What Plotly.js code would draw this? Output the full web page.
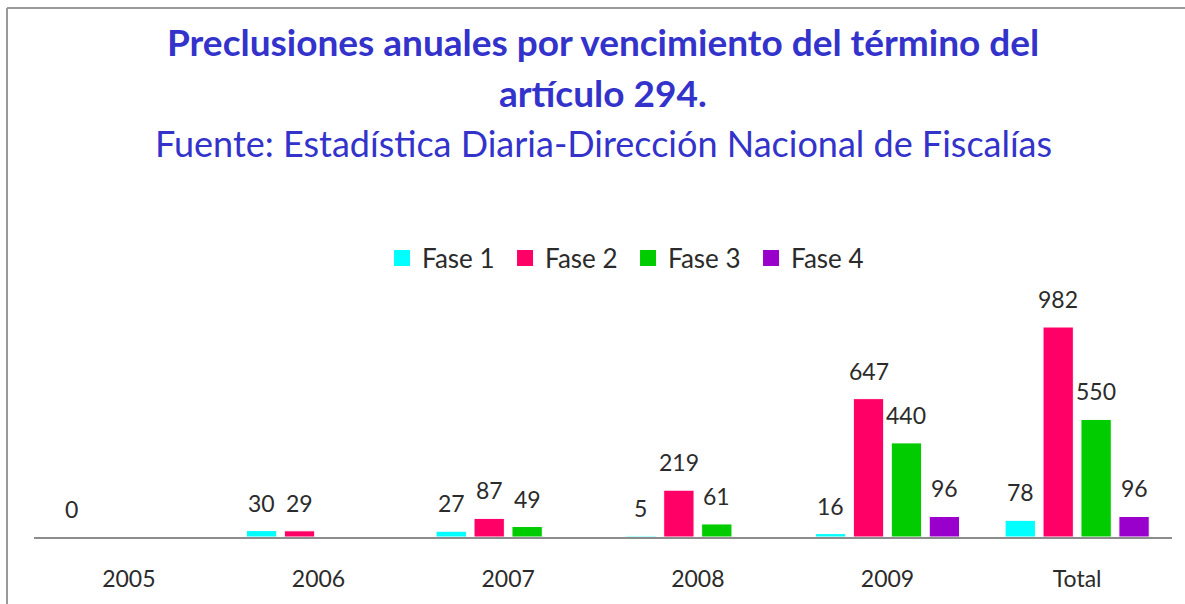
<!DOCTYPE html>
<html>
<head>
<meta charset="utf-8">
<script src="https://cdn.plot.ly/plotly-3.0.1.min.js"></script>
<style>html,body{margin:0;padding:0;background:#fff}#chart{width:1185px;height:604px}</style>
</head>
<body>
<div id="chart"></div>
<script>
// ---- data ----
const categories = ['2005', '2006', '2007', '2008', '2009', 'Total'];
const seriesNames = ['Fase 1', 'Fase 2', 'Fase 3', 'Fase 4'];
const fase1 = [0, 30, 27, 5, 16, 78];
const fase2 = [null, 29, 87, 219, 647, 982];
const fase3 = [null, null, 49, 61, 440, 550];
const fase4 = [null, null, null, null, 96, 96];
const titleLine1 = 'Preclusiones anuales por vencimiento del término del';
const titleLine2 = 'artículo 294.';
const subtitle = 'Fuente: Estadística Diaria-Dirección Nacional de Fiscalías';

// ---- styling ----
const colors = ['#00FFFF', '#FF0066', '#00CC00', '#9900CC'];
const W = 1185, H = 604;
const M = {l: 34, r: 13, t: 290, b: 67};
const plotW = W - M.l - M.r, plotH = H - M.t - M.b;
const bargap = 0.2, bargroupgap = 0.2;
const FONT = 'Lato, "Open Sans", sans-serif';
const textColor = '#2b2b2b';
const blue = '#3333CC';

const allSeries = [fase1, fase2, fase3, fase4];
const traces = allSeries.map((vals, i) => ({
  type: 'bar', name: seriesNames[i], x: categories, y: vals,
  marker: {color: colors[i], line: {color: '#ffffff', width: 1}},
  showlegend: false, hoverinfo: 'x+y+name'
}));
// legend-only entries (square markers sized like the reference)
allSeries.forEach((vals, i) => {
  traces.push({
    type: 'scatter', mode: 'markers', name: seriesNames[i], x: [null], y: [null],
    marker: {symbol: 'square', size: 16, color: colors[i]}, showlegend: true, hoverinfo: 'skip'
  });
});

const yMax = 1155;
const px2py = p => (H - M.b - p) / plotH;   // pixel y -> paper y
const px2px = p => (p - M.l) / plotW;       // pixel x -> paper x

const catW = plotW / categories.length;
const slot = catW * (1 - bargap) / allSeries.length;
const annotations = [];
allSeries.forEach((vals, i) => {
  vals.forEach((v, j) => {
    if (v === null) return;
    annotations.push({
      x: j, y: v, xref: 'x', yref: 'y',
      text: String(v), showarrow: false,
      xshift: (i - (allSeries.length - 1) / 2) * slot,
      yshift: 28, yanchor: 'middle',
      font: {family: FONT, size: 23, color: textColor}
    });
  });
});
annotations.push(
  {xref: 'paper', yref: 'paper', x: 0.5, y: px2py(42), yanchor: 'middle', showarrow: false,
   text: '<b>' + titleLine1 + '</b>', font: {family: FONT, size: 37, color: blue}},
  {xref: 'paper', yref: 'paper', x: 0.5, y: px2py(93), yanchor: 'middle', showarrow: false,
   text: '<b>' + titleLine2 + '</b>', font: {family: FONT, size: 37, color: blue}},
  {xref: 'paper', yref: 'paper', x: 0.5, y: px2py(143), yanchor: 'middle', showarrow: false,
   text: subtitle, font: {family: FONT, size: 36, color: blue}}
);

const shapes = [
  {type: 'line', xref: 'paper', yref: 'paper', x0: px2px(7), x1: px2px(W + 5), y0: px2py(8), y1: px2py(8),
   line: {color: '#999999', width: 2}},
  {type: 'line', xref: 'paper', yref: 'paper', x0: px2px(7), x1: px2px(7), y0: px2py(8), y1: px2py(H + 5),
   line: {color: '#999999', width: 2}}
];

const layout = {
  width: W, height: H,
  margin: M,
  paper_bgcolor: '#ffffff', plot_bgcolor: '#ffffff',
  barmode: 'group', bargap: bargap, bargroupgap: bargroupgap,
  showlegend: true,
  legend: {orientation: 'h', x: 0.522, xanchor: 'center', y: px2py(258), yanchor: 'middle',
           itemsizing: 'trace', entrywidth: 78,
           font: {family: FONT, size: 26, color: textColor}, bgcolor: 'rgba(0,0,0,0)'},
  xaxis: {type: 'category', categoryorder: 'array', categoryarray: categories,
          range: [-0.5, categories.length - 0.5], autorange: false,
          showline: true, linecolor: '#8c8c8c', linewidth: 1.5,
          showgrid: false, zeroline: false, ticks: '', ticklabelstandoff: 21,
          tickfont: {family: FONT, size: 23, color: textColor}},
  yaxis: {range: [0, yMax], autorange: false, showgrid: false, zeroline: false, showticklabels: false, showline: false},
  annotations: annotations,
  shapes: shapes
};

Plotly.newPlot('chart', traces, layout, {displayModeBar: false, staticPlot: true});
</script>
</body>
</html>
